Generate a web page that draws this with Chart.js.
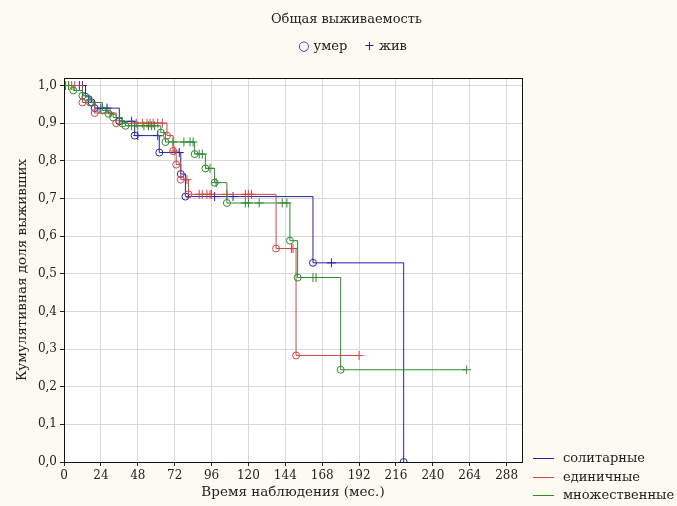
<!DOCTYPE html>
<html>
<head>
<meta charset="utf-8">
<script src="https://cdn.jsdelivr.net/npm/chart.js@4.4.1/dist/chart.umd.min.js"></script>
<style>
  html, body { margin: 0; padding: 0; background: #fdfbf1; }
  #wrap { position: relative; width: 677px; height: 506px; font-family: 'DejaVu Serif', serif; font-size: 13px; color: #222; }
  #wrap canvas { position: absolute; left: 0; top: 0; }
  .title { position: absolute; top: 11px; left: 8px; width: 677px; text-align: center; }
  .marks { position: absolute; top: 38px; left: 14px; width: 677px; text-align: center; }
  .marks .sym { color: #23239a; }
  .legend { position: absolute; left: 533px; top: 449px; }
  .legend div { height: 18.5px; line-height: 17px; white-space: nowrap; }
  .legend i { display: inline-block; width: 21px; height: 0; border-top: 1px solid; vertical-align: middle; margin-right: 9px; }
</style>
</head>
<body>
<div id="wrap">
  <canvas id="km"></canvas>
  <div class="title">Общая выживаемость</div>
  <div class="marks"><span class="sym">○</span> умер &nbsp;&nbsp; <span class="sym">+</span> жив</div>
  <div class="legend" id="legend"></div>
</div>
<script>
// время (мес.), кумулятивная доля выживших, статус: 1 - умер, 0 - жив (цензурирован)
const soloT = [10, 12, 14, 18, 20, 24, 28, 36, 44, 46, 48, 61, 62, 75, 76, 79, 98, 110, 162, 174, 221];
const soloS = [1, 1, 0.97, 0.955, 0.94, 0.94, 0.94, 0.905, 0.905, 0.867, 0.867, 0.867, 0.822, 0.822, 0.765, 0.705, 0.705, 0.705, 0.529, 0.529, 0];
const soloD = [0, 0, 1, 1, 1, 0, 0, 1, 0, 1, 0, 0, 1, 0, 1, 1, 0, 0, 1, 0, 1];

const singleT = [3, 5, 7, 12, 20, 30, 34, 47, 51, 54, 56, 58, 61, 64, 67, 71, 72, 73, 76, 80, 81, 88, 90, 93, 95, 96, 106, 118, 120, 122, 138, 148, 149, 151, 192];
const singleS = [1, 1, 1, 0.955, 0.927, 0.927, 0.9, 0.9, 0.9, 0.9, 0.9, 0.9, 0.9, 0.9, 0.867, 0.826, 0.826, 0.79, 0.75, 0.75, 0.711, 0.711, 0.711, 0.711, 0.711, 0.711, 0.711, 0.711, 0.711, 0.711, 0.567, 0.567, 0.567, 0.283, 0.283];
const singleD = [0, 0, 0, 1, 1, 0, 1, 0, 0, 0, 0, 0, 0, 0, 1, 1, 0, 1, 1, 0, 1, 0, 0, 0, 0, 0, 0, 0, 0, 0, 1, 0, 0, 1, 0];

const multiT = [1, 3, 6, 12, 17, 25, 29, 32, 38, 40, 44, 48, 52, 55, 57, 59, 63, 66, 71, 78, 82, 84, 85, 88, 90, 92, 95, 98, 99, 106, 118, 120, 127, 142, 145, 147, 152, 162, 164, 180, 262];
const multiS = [1, 1, 0.987, 0.973, 0.955, 0.934, 0.925, 0.915, 0.899, 0.893, 0.893, 0.893, 0.893, 0.893, 0.893, 0.893, 0.875, 0.85, 0.85, 0.85, 0.85, 0.85, 0.818, 0.818, 0.818, 0.78, 0.78, 0.742, 0.742, 0.688, 0.688, 0.688, 0.688, 0.688, 0.688, 0.588, 0.49, 0.49, 0.49, 0.245, 0.245];
const multiD = [0, 0, 1, 1, 1, 1, 1, 1, 1, 1, 0, 0, 0, 0, 0, 0, 1, 1, 0, 0, 0, 0, 1, 0, 0, 1, 0, 1, 0, 1, 0, 0, 0, 0, 0, 1, 1, 0, 0, 1, 0];

const groups = ['солитарные', 'единичные', 'множественные'];
const colors = ['#25259f', '#d24646', '#2e8c2e'];
const xTicks = [0, 24, 48, 72, 96, 120, 144, 168, 192, 216, 240, 264, 288];

function makeSet(label, T, S, D, color) {
  // кривая Каплана-Мейера начинается с 1.0 в момент 0
  const pts = [{ x: 0, y: 1 }].concat(T.map((t, i) => ({ x: t, y: S[i] })));
  const styles = [false].concat(D.map(d => d ? 'circle' : 'cross'));
  const radii = [0].concat(D.map(d => d ? 3.5 : 4.5));
  return {
    label, data: pts, stepped: true, borderColor: color, borderWidth: 1,
    pointStyle: styles, pointRadius: radii, pointBorderColor: color, pointBorderWidth: 1,
    pointBackgroundColor: 'rgba(0,0,0,0)', fill: false, tension: 0,
  };
}

const frame = {
  id: 'frame',
  beforeDraw(chart) {
    const a = chart.chartArea, ctx = chart.ctx;
    ctx.save(); ctx.fillStyle = '#ffffff';
    ctx.fillRect(a.left, a.top, a.right - a.left, a.bottom - a.top);
    ctx.restore();
  },
  afterDraw(chart) {
    const a = chart.chartArea, ctx = chart.ctx;
    ctx.save(); ctx.strokeStyle = '#111'; ctx.lineWidth = 1;
    ctx.strokeRect(Math.round(a.left) + 0.5, Math.round(a.top) + 0.5, Math.round(a.right - a.left), Math.round(a.bottom - a.top));
    ctx.restore();
  },
};

const font = { family: "'DejaVu Serif', serif", size: 12 };
const titleFont = { family: "'DejaVu Serif', serif", size: 13.5 };

new Chart(document.getElementById('km'), {
  type: 'line',
  data: {
    datasets: [
      makeSet(groups[2], multiT, multiS, multiD, colors[2]),
      makeSet(groups[1], singleT, singleS, singleD, colors[1]),
      makeSet(groups[0], soloT, soloS, soloD, colors[0]),
    ],
  },
  options: {
    responsive: true, maintainAspectRatio: false, animation: false,
    layout: { padding: { left: 14, top: 78, right: 155, bottom: 5 } },
    plugins: { legend: { display: false }, tooltip: { enabled: false } },
    scales: {
      x: {
        type: 'linear', min: 0, max: 298,
        afterBuildTicks: s => { s.ticks = xTicks.map(v => ({ value: v })); },
        afterFit: s => { s.height = 39; },
        ticks: { font, color: '#222', padding: 3, maxRotation: 0, autoSkip: false },
        grid: { color: '#d9d9d9', tickColor: '#222', tickLength: 4 },
        border: { color: '#111' },
        title: { display: true, text: 'Время наблюдения (мес.)', font: titleFont, color: '#222', padding: 0 },
      },
      y: {
        min: 0, max: 1.02,
        ticks: { stepSize: 0.1, includeBounds: false, font, color: '#222', padding: 3,
          callback: v => v.toFixed(1).replace('.', ',') },
        afterFit: s => { s.width = 50; },
        grid: { color: '#d9d9d9', tickColor: '#222', tickLength: 4 },
        border: { color: '#111' },
        title: { display: true, text: 'Кумулятивная доля выживших', font: titleFont, color: '#222', padding: 0 },
      },
    },
  },
  plugins: [frame],
});

document.getElementById('legend').innerHTML = groups
  .map((g, i) => `<div><i style="border-color:${colors[i]}"></i>${g}</div>`).join('');
</script>
</body>
</html>
